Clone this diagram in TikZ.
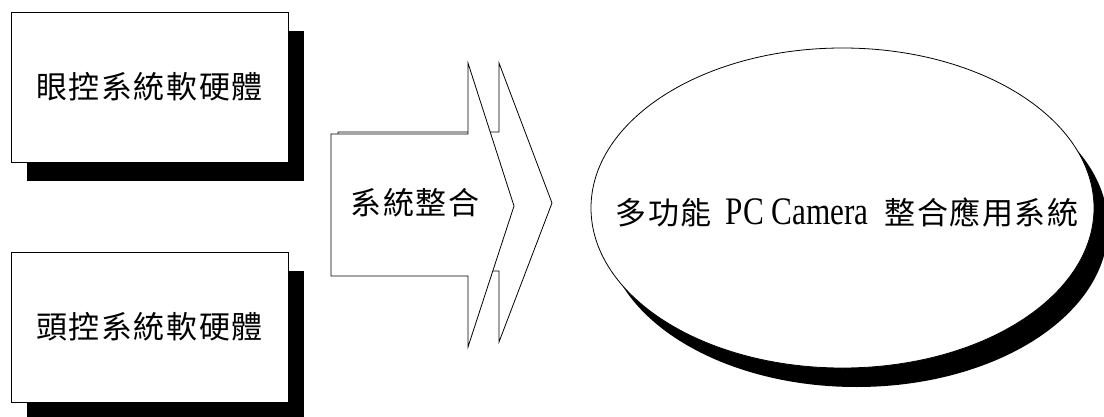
\documentclass[tikz,border=0pt]{standalone}
\usepackage{fontspec}
\newfontfamily\cjk[LetterSpace=5]{Noto Sans CJK TC}
\newfontfamily\lat[FakeStretch=0.8]{Liberation Serif}
\usetikzlibrary{shapes.geometric,shadows}
\tikzset{
  blackshadow/.style 2 args={drop shadow={shadow xshift=#1, shadow yshift=#2, fill=black, opacity=1}},
  sysbox/.style={draw, line width=0.8pt, fill=white, minimum width=277pt, minimum height=150pt, inner sep=0pt, blackshadow={16pt}{-19pt}},
  bigtext/.style={inner sep=0pt, font=\cjk\fontsize{31pt}{36pt}\selectfont},
  arrowshape/.style={draw, line width=0.8pt, fill=white, line join=miter},
  resultell/.style={draw, ellipse, line width=0.8pt, fill=white, minimum width=503pt, minimum height=320pt, inner sep=0pt, blackshadow={14pt}{-19pt}},
}
\begin{document}
\begin{tikzpicture}[x=1pt,y=-1pt]
\useasboundingbox (0,0) rectangle (1104,417);
% input boxes
\node[sysbox] (eye) at (149.5,87) {};
\node[bigtext] (eyet) at (eye.center) {眼控系統軟硬體};
\node[sysbox] (head) at (149.5,327) {};
\node[bigtext] (headt) at (head.center) {頭控系統軟硬體};
% block arrows
\draw[arrowshape] (338,132) -- (499,132) -- (499,63) -- (552,203) -- (499,342) -- (499,271) -- (338,271) -- cycle;
\draw[arrowshape] (331,134) -- (468,134) -- (468,63) -- (514,206) -- (468,347) -- (468,276) -- (331,276) -- cycle;
\node[bigtext] (integ) at (415,203) {系統整合};
% result ellipse
\node[resultell] (app) at (842.5,208) {};
\node[bigtext] (appt) at (847,212) {多功能\hspace{14pt}{\lat\fontsize{39pt}{42pt}\selectfont PC Camera}\hspace{16pt}整合應用系統};
\end{tikzpicture}
\end{document}
